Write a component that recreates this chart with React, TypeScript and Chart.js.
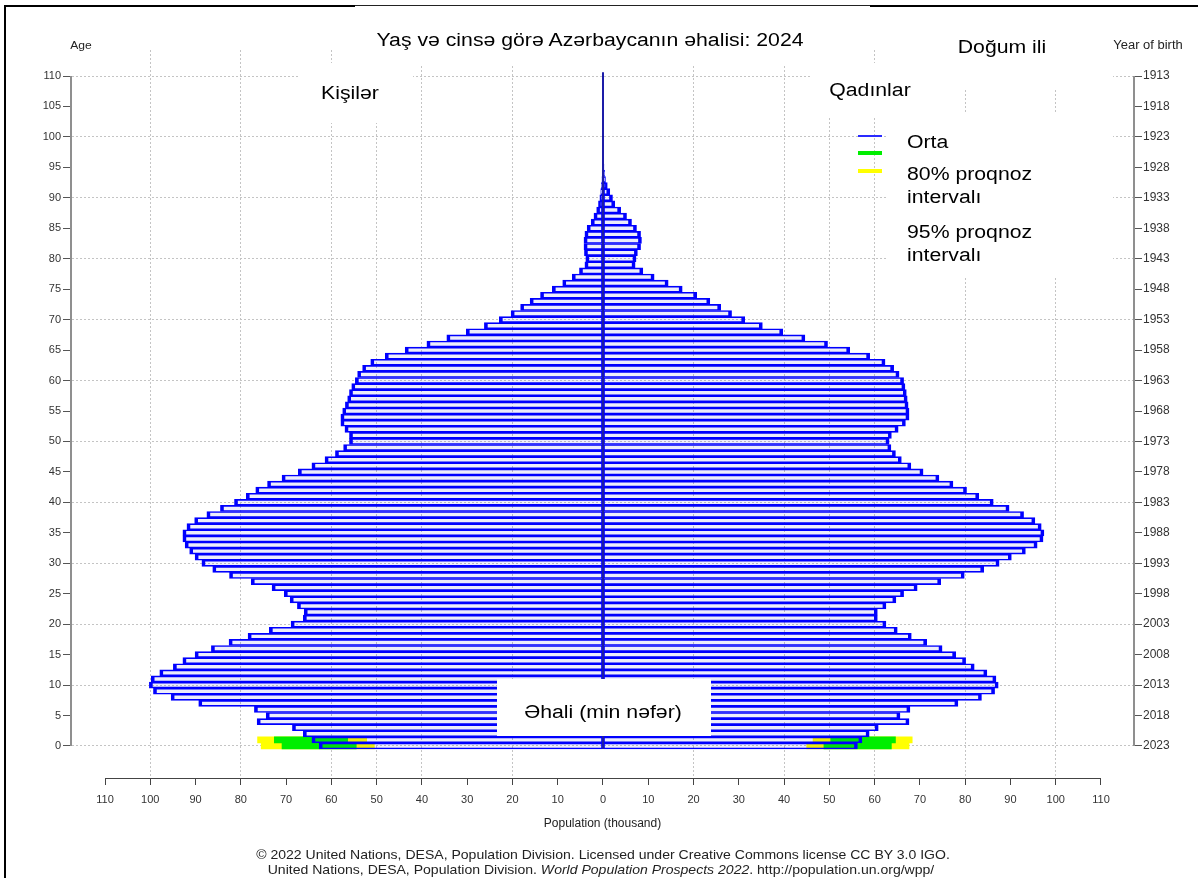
import React, { useEffect, useRef } from 'react';
import { Chart, registerables } from 'chart.js';

Chart.register(...registerables);

// ---------- data ----------
// single-year ages 0..110 (categories)
const AGES: number[] = Array.from({ length: 111 }, (_, i) => i);

// Males, median (thousand), ages 0..110
const MALE_MEDIAN: number[] = [
  62.7, 64.3, 66.2, 68.6, 76.4, 74.4, 77.0, 89.3, 95.4, 99.3,
  100.2, 99.8, 97.9, 94.9, 92.8, 90.1, 86.5, 82.6, 78.4, 73.7,
  68.9, 66.2, 66.0, 67.5, 69.1, 70.4, 73.1, 77.7, 82.5, 86.2,
  88.6, 90.1, 91.3, 92.3, 92.8, 92.8, 91.9, 90.2, 87.5, 84.5,
  81.4, 78.8, 76.7, 74.1, 70.9, 67.3, 64.3, 61.4, 59.1, 57.3,
  56.0, 56.0, 57.0, 57.9, 57.9, 57.5, 56.9, 56.4, 56.0, 55.5,
  54.7, 54.2, 53.1, 51.3, 48.1, 43.7, 38.9, 34.5, 30.2, 26.2,
  22.9, 20.3, 18.2, 16.1, 13.8, 11.2, 8.9, 6.8, 5.2, 4.0,
  3.8, 4.1, 4.2, 4.2, 4.0, 3.5, 2.6, 2.0, 1.4, 1.0,
  0.7, 0.5, 0.35, 0.25, 0.18, 0.12, 0.08, 0.05, 0.03, 0.02,
  0.01, 0.01, 0.01, 0.01, 0.01, 0.01, 0.01, 0.01, 0.01, 0.01, 0.01,
];

// Females, median (thousand), ages 0..110
const FEMALE_MEDIAN: number[] = [
  56.2, 57.2, 58.8, 60.8, 67.6, 65.6, 67.8, 78.4, 83.6, 86.5,
  87.3, 86.8, 84.8, 82.0, 80.1, 77.9, 74.9, 71.5, 68.1, 65.0,
  62.5, 60.6, 60.6, 62.5, 64.7, 66.4, 69.4, 74.6, 79.8, 84.1,
  87.5, 90.2, 93.3, 95.9, 97.2, 97.4, 96.8, 95.4, 92.9, 89.7,
  86.2, 83.0, 80.3, 77.3, 74.2, 70.7, 68.0, 65.9, 64.6, 63.6,
  63.2, 63.7, 65.2, 66.8, 67.6, 67.6, 67.4, 67.2, 67.0, 66.7,
  66.4, 65.4, 64.2, 62.3, 58.9, 54.5, 49.6, 44.6, 39.7, 35.2,
  31.3, 28.4, 26.0, 23.6, 20.7, 17.5, 14.4, 11.3, 8.8, 7.1,
  7.3, 7.6, 8.3, 8.5, 8.3, 7.4, 6.3, 5.2, 3.9, 2.6,
  2.1, 1.5, 0.95, 0.55, 0.35, 0.22, 0.14, 0.09, 0.05, 0.03,
  0.02, 0.01, 0.01, 0.01, 0.01, 0.01, 0.01, 0.01, 0.01, 0.01, 0.01,
];

// Projection intervals (only the youngest ages carry uncertainty)
const INTERVAL_AGES: number[] = [0, 1];
const MALE_80_LOW: number[] = [54.5, 56.4];
const MALE_80_HIGH: number[] = [70.9, 72.6];
const MALE_95_LOW: number[] = [50.5, 52.2];
const MALE_95_HIGH: number[] = [75.5, 76.3];
const FEMALE_80_LOW: number[] = [48.8, 50.3];
const FEMALE_80_HIGH: number[] = [63.7, 64.6];
const FEMALE_95_LOW: number[] = [45.0, 46.4];
const FEMALE_95_HIGH: number[] = [67.6, 68.3];

// Tick labels
const AGE_TICKS: number[] = [0, 5, 10, 15, 20, 25, 30, 35, 40, 45, 50, 55, 60, 65, 70, 75, 80, 85, 90, 95, 100, 105, 110];
const YEAR_TICK_LABELS: string[] = [
  '2023', '2018', '2013', '2008', '2003', '1998', '1993', '1988', '1983', '1978', '1973', '1968',
  '1963', '1958', '1953', '1948', '1943', '1938', '1933', '1928', '1923', '1918', '1913',
];
const POP_TICKS: number[] = [-110, -100, -90, -80, -70, -60, -50, -40, -30, -20, -10, 0, 10, 20, 30, 40, 50, 60, 70, 80, 90, 100, 110];
const POP_GRID_SHOWN: number[] = [20, 40, 50, 60, 80, 100];
const AGE_GRID_STEP = 10;

// ---------- styles ----------
const FONT = '"Liberation Sans", Arial, Helvetica, sans-serif';
const BLUE = '#0000ff';
const BAR_FILL = 'rgba(0,0,200,0.07)';
const GREEN = '#00ee00';
const YELLOW = '#ffff00';
const GRID = '#c4c4c4';

const axisLinesPlugin = {
  id: 'axisLines',
  afterDraw(chart: any) {
    const { ctx, chartArea } = chart;
    const x = chart.scales.x;
    const y = chart.scales.y;
    ctx.save();
    ctx.strokeStyle = '#8f8f8f';
    ctx.lineWidth = 2;
    ctx.beginPath();
    ctx.moveTo(chartArea.left - 1, y.getPixelForValue(0));
    ctx.lineTo(chartArea.left - 1, y.getPixelForValue(110));
    ctx.moveTo(chartArea.right + 1, y.getPixelForValue(0));
    ctx.lineTo(chartArea.right + 1, y.getPixelForValue(110));
    ctx.stroke();
    ctx.strokeStyle = '#444';
    ctx.lineWidth = 1;
    ctx.beginPath();
    ctx.moveTo(x.getPixelForValue(-110), chartArea.bottom + 0.5);
    ctx.lineTo(x.getPixelForValue(110), chartArea.bottom + 0.5);
    ctx.stroke();
    ctx.restore();
  },
};

const tickFont = { family: FONT, size: 11 };

function Txt(props: { x: number; y: number; size?: number; sx?: number; align?: 'left' | 'center'; children: React.ReactNode; style?: React.CSSProperties }) {
  const size = props.size ?? 18;
  const lh = Math.round(size * 1.2);
  const center = props.align === 'center';
  const sx = props.sx ?? 1;
  return (
    <div
      style={{
        position: 'absolute',
        left: center ? props.x - 500 : props.x,
        width: center ? 1000 : undefined,
        top: props.y - lh / 2,
        fontSize: size,
        lineHeight: `${lh}px`,
        textAlign: center ? 'center' : 'left',
        whiteSpace: 'nowrap',
        color: '#000',
        transform: `scaleX(${sx})`,
        transformOrigin: center ? '50% 50%' : '0% 50%',
        ...props.style,
      }}
    >
      {props.children}
    </div>
  );
}

function Box(props: { x: number; y: number; w: number; h: number; style?: React.CSSProperties }) {
  return <div style={{ position: 'absolute', left: props.x, top: props.y, width: props.w, height: props.h, background: '#fff', ...props.style }} />;
}

export default function App() {
  const ref = useRef<HTMLCanvasElement | null>(null);

  useEffect(() => {
    const canvas = ref.current;
    if (!canvas) return;

    const barCommon = {
      type: 'bar' as const,
      grouped: false,
      categoryPercentage: 1,
      barPercentage: 1,
      borderSkipped: false,
      xAxisID: 'x',
      yAxisID: 'y',
    };

    const chart = new Chart(canvas, {
      type: 'bar',
      data: {
        datasets: [
          {
            type: 'line',
            label: 'axis',
            data: [{ x: 0, y: -0.5 }, { x: 0, y: 110.6 }],
            borderColor: '#1c1ca8',
            borderWidth: 2,
            pointRadius: 0,
            xAxisID: 'x',
            yAxisID: 'y',
          } as any,
          {
            ...barCommon,
            label: 'Kişilər',
            data: AGES.map((a, i) => ({ x: [-MALE_MEDIAN[i], 0], y: a })),
            backgroundColor: BAR_FILL,
            borderColor: BLUE,
            borderWidth: { top: 1, bottom: 1, left: 3, right: 1 },
          } as any,
          {
            ...barCommon,
            label: 'Qadınlar',
            data: AGES.map((a, i) => ({ x: [0, FEMALE_MEDIAN[i]], y: a })),
            backgroundColor: BAR_FILL,
            borderColor: BLUE,
            borderWidth: { top: 1, bottom: 1, left: 1, right: 3 },
          } as any,
          {
            ...barCommon,
            label: '80% Kişilər',
            data: INTERVAL_AGES.map((a, i) => ({ x: [-MALE_80_HIGH[i], -MALE_80_LOW[i]], y: a })),
            backgroundColor: GREEN,
            borderWidth: 0,
          } as any,
          {
            ...barCommon,
            label: '80% Qadınlar',
            data: INTERVAL_AGES.map((a, i) => ({ x: [FEMALE_80_LOW[i], FEMALE_80_HIGH[i]], y: a })),
            backgroundColor: GREEN,
            borderWidth: 0,
          } as any,
          {
            ...barCommon,
            label: '95% Kişilər',
            data: INTERVAL_AGES.map((a, i) => ({ x: [-MALE_95_HIGH[i], -MALE_95_LOW[i]], y: a })),
            backgroundColor: YELLOW,
            borderWidth: 0,
          } as any,
          {
            ...barCommon,
            label: '95% Qadınlar',
            data: INTERVAL_AGES.map((a, i) => ({ x: [FEMALE_95_LOW[i], FEMALE_95_HIGH[i]], y: a })),
            backgroundColor: YELLOW,
            borderWidth: 0,
          } as any,
        ],
      },
      options: {
        indexAxis: 'y',
        animation: false,
        responsive: false,
        maintainAspectRatio: false,
        devicePixelRatio: 1,
        layout: { padding: { left: 0, right: 0, top: 50, bottom: 0 } },
        plugins: {
          legend: { display: false },
          tooltip: { enabled: false },
          title: { display: false },
        },
        scales: {
          x: {
            type: 'linear',
            position: 'bottom',
            offset: false,
            min: -117.29,
            max: 117.07,
            afterBuildTicks: (s: any) => {
              s.ticks = POP_TICKS.map((v) => ({ value: v }));
            },
            afterFit: (s: any) => {
              s.height = 100;
            },
            ticks: {
              autoSkip: false,
              maxRotation: 0,
              font: tickFont,
              color: '#333',
              padding: 8,
              callback: (v: any) => String(Math.abs(Number(v))),
            },
            grid: {
              offset: false,
              color: (c: any) => (POP_GRID_SHOWN.includes(Math.abs(c.tick?.value)) ? GRID : 'rgba(0,0,0,0)'),
              lineWidth: 1,
              tickColor: '#444',
              tickLength: 7,
              tickWidth: 1,
            },
            border: { display: false, dash: [2, 2] },
            title: {
              display: true,
              text: 'Population (thousand)',
              font: { family: FONT, size: 12 },
              color: '#222',
              padding: { top: 0, bottom: 47 },
            },
          },
          y: {
            type: 'linear',
            position: 'left',
            offset: false,
            min: -5.254,
            max: 114.27,
            afterBuildTicks: (s: any) => {
              s.ticks = AGE_TICKS.map((v) => ({ value: v }));
            },
            afterFit: (s: any) => {
              s.width = 72;
            },
            ticks: { autoSkip: false, font: tickFont, color: '#333', padding: 2 },
            grid: {
              offset: false,
              color: (c: any) => (c.tick && c.tick.value % AGE_GRID_STEP === 0 ? GRID : 'rgba(0,0,0,0)'),
              lineWidth: 1,
              tickColor: '#555',
              tickLength: 9,
              tickWidth: 1,
            },
            border: { display: false, dash: [2, 2] },
          },
          y2: {
            type: 'linear',
            position: 'right',
            offset: false,
            min: -5.254,
            max: 114.27,
            afterBuildTicks: (s: any) => {
              s.ticks = AGE_TICKS.map((v) => ({ value: v }));
            },
            afterFit: (s: any) => {
              s.width = 65;
            },
            ticks: {
              autoSkip: false,
              font: { family: FONT, size: 12 },
              color: '#333',
              padding: 1,
              callback: (_v: any, i: number) => YEAR_TICK_LABELS[i],
            },
            grid: { offset: false, drawOnChartArea: false, tickColor: '#555', tickLength: 9, tickWidth: 1 },
            border: { display: false },
          },
        },
      } as any,
      plugins: [axisLinesPlugin],
    });

    return () => chart.destroy();
  }, []);

  return (
    <div style={{ position: 'absolute', left: 0, top: 0, width: 1198, height: 878, background: '#fff', overflow: 'hidden', fontFamily: FONT }}>
      <canvas ref={ref} width={1198} height={878} style={{ position: 'absolute', left: 0, top: 0, width: 1198, height: 878 }} />

      {/* outer frame */}
      <div style={{ position: 'absolute', left: 4, top: 5, width: 1198, height: 878, borderLeft: '2px solid #000', borderTop: '2px solid #000' }} />

      {/* white label boxes */}
      <Box x={355} y={5} w={515} h={58} style={{ borderTop: '1px solid #222' }} />
      <Box x={300} y={63} w={113} h={60} />
      <Box x={810} y={63} w={135} h={55} />
      <Box x={945} y={8} w={168} h={80} />
      <Box x={887} y={112} w={226} h={165} />
      <Box x={497} y={679} w={214} h={57} />

      <Txt x={590} y={40} sx={1.18} align="center">Yaş və cinsə görə Azərbaycanın əhalisi: 2024</Txt>
      <Txt x={350} y={93} sx={1.18} align="center">Kişilər</Txt>
      <Txt x={870} y={90} sx={1.18} align="center">Qadınlar</Txt>
      <Txt x={1002} y={47} sx={1.18} align="center">Doğum ili</Txt>
      <Txt x={603} y={712} sx={1.18} align="center">Əhali (min nəfər)</Txt>

      {/* legend */}
      <div style={{ position: 'absolute', left: 858, top: 135, width: 24, height: 2, background: '#2a2aff' }} />
      <div style={{ position: 'absolute', left: 858, top: 151, width: 24, height: 4, background: '#00ee00' }} />
      <div style={{ position: 'absolute', left: 858, top: 169, width: 24, height: 4, background: '#ffff00' }} />
      <Txt x={907} y={142} sx={1.18}>Orta</Txt>
      <Txt x={907} y={174} sx={1.18}>80% proqnoz</Txt>
      <Txt x={907} y={197} sx={1.18}>intervalı</Txt>
      <Txt x={907} y={232} sx={1.18}>95% proqnoz</Txt>
      <Txt x={907} y={255} sx={1.18}>intervalı</Txt>

      {/* axis captions */}
      <Txt x={81} y={45} size={11} sx={1.1} align="center" style={{ color: '#222' }}>Age</Txt>
      <Txt x={1148} y={45} size={12} sx={1.08} align="center" style={{ color: '#222' }}>Year of birth</Txt>

      {/* footer */}
      <Txt x={603} y={855} size={13} sx={1.08} align="center" style={{ color: '#222' }}>
        © 2022 United Nations, DESA, Population Division. Licensed under Creative Commons license CC BY 3.0 IGO.
      </Txt>
      <Txt x={601} y={870} size={13} sx={1.08} align="center" style={{ color: '#222' }}>
        United Nations, DESA, Population Division. <i>World Population Prospects 2022</i>. http://population.un.org/wpp/
      </Txt>
    </div>
  );
}
